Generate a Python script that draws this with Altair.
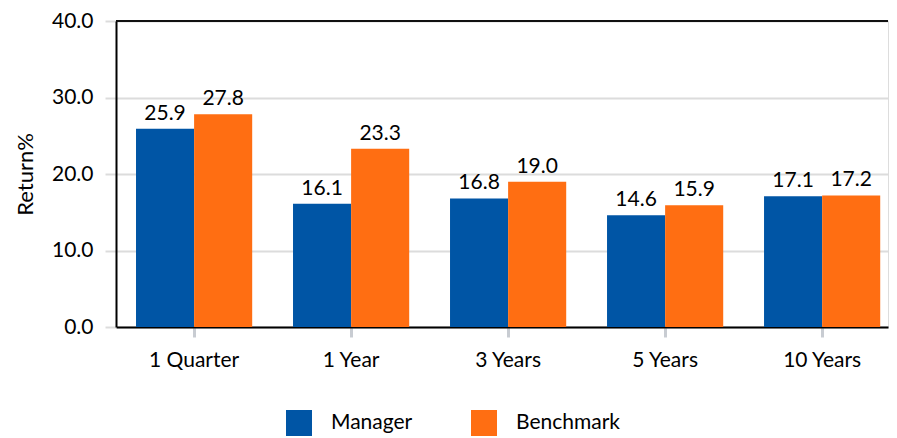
import altair as alt
import pandas as pd

periods = ["1 Quarter", "1 Year", "3 Years", "5 Years", "10 Years"]
series = ["Manager", "Benchmark"]
manager = [25.9, 16.1, 16.8, 14.6, 17.1]
benchmark = [27.8, 23.3, 19.0, 15.9, 17.2]
colors = ["#0055A5", "#FF6E12"]
y_ticks = [0, 10, 20, 30, 40]

rows = []
for p, m, b in zip(periods, manager, benchmark):
    rows.append({"period": p, "series": "Manager", "value": m})
    rows.append({"period": p, "series": "Benchmark", "value": b})
df = pd.DataFrame(rows)

FONT = "Lato"

x = alt.X("period:N", sort=periods, title=None,
          scale=alt.Scale(paddingInner=0.26, paddingOuter=0.0885, align=0.72),
          axis=alt.Axis(labelAngle=0, labelFontSize=21, labelColor="#000",
                        labelPadding=12, tickColor="#c8ccd2", tickWidth=3,
                        tickSize=10, domainColor="#000", domainWidth=2,
                        labelFont=FONT, grid=False))
xo = alt.XOffset("series:N", sort=series, scale=alt.Scale(paddingInner=0, paddingOuter=0))
y = alt.Y("value:Q", title="Return%",
          scale=alt.Scale(domain=[0, 40], nice=False),
          axis=alt.Axis(values=y_ticks, format=".1f", labelFontSize=21,
                        labelColor="#000", labelFont=FONT, tickColor="#dcdcdc",
                        tickWidth=2, tickSize=11, gridColor="#dcdcdc", gridWidth=2,
                        domainColor="#000", domainWidth=2, labelPadding=12,
                        titleFontSize=22, titleFontWeight="normal", titleColor="#000",
                        titleFont=FONT, titlePadding=14))

color = alt.Color("series:N", sort=series,
                  scale=alt.Scale(domain=series, range=colors),
                  legend=alt.Legend(title=None, orient="none", direction="horizontal",
                                    legendX=170, legendY=389, symbolType="square",
                                    symbolSize=676, symbolStrokeWidth=0,
                                    labelFontSize=21, labelFont=FONT, labelColor="#000",
                                    labelOffset=19, columnPadding=58))

bars = alt.Chart(df).mark_bar(opacity=1).encode(x=x, xOffset=xo, y=y, color=color)
labels = alt.Chart(df).mark_text(baseline="bottom", dy=-5, fontSize=21, font=FONT,
                                 color="#000").encode(
    x=alt.X("period:N", sort=periods), xOffset=xo, y="value:Q",
    text=alt.Text("value:Q", format=".1f"))
top_border = alt.Chart(pd.DataFrame({"k": [0]})).mark_rule(
    color="#111", strokeWidth=2).encode(
    y=alt.value(0), x=alt.value(0), x2=alt.value("width"))

chart = (bars + labels + top_border).properties(width=772, height=306).configure_view(
    stroke="transparent", strokeWidth=0
).configure(font=FONT, padding={"left": 6, "top": 2, "right": 0, "bottom": 0})

chart.save("out.html", embed_options={"renderer": "svg", "actions": False})
